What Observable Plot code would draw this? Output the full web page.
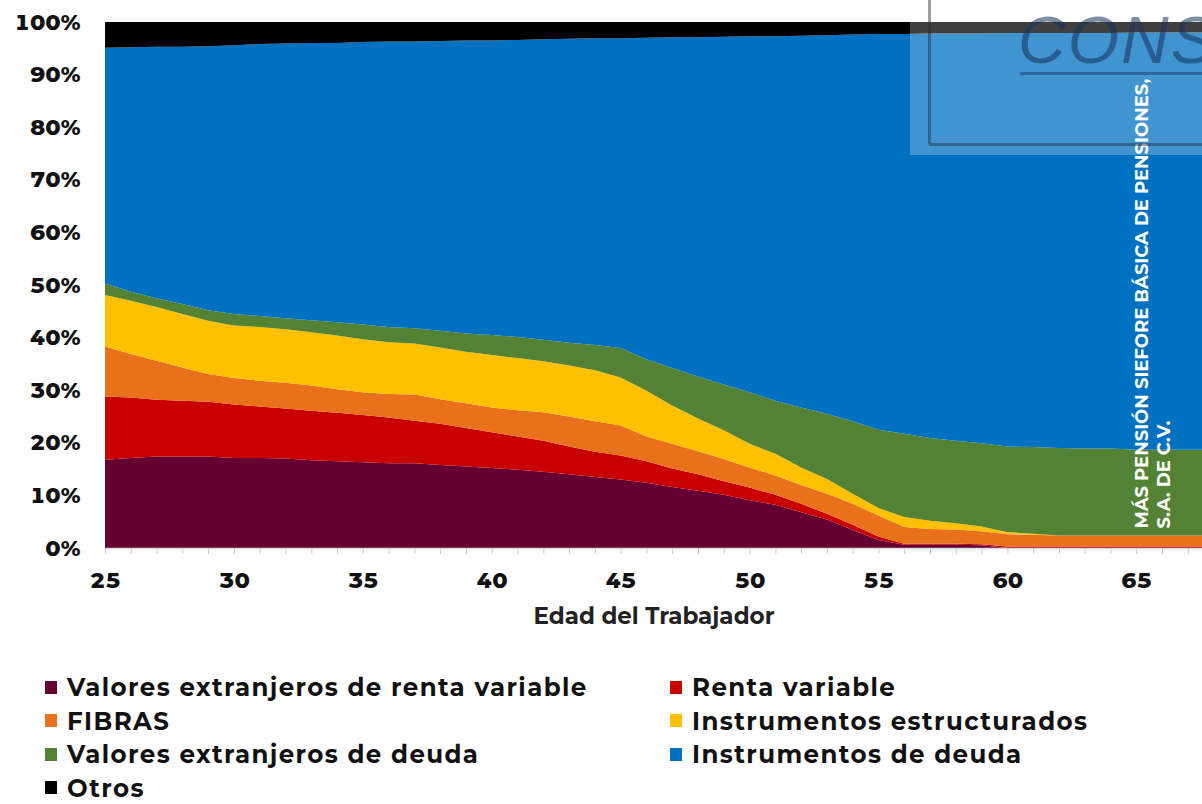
<!DOCTYPE html>
<html>
<head>
<meta charset="utf-8">
<script src="https://cdn.jsdelivr.net/npm/d3@7"></script>
<script src="https://cdn.jsdelivr.net/npm/@observablehq/plot@0.6"></script>
<style>
  body { margin: 0; background: #fff; font-family: Montserrat, Inter, "Open Sans", sans-serif; }
  #wrap { position: relative; width: 1202px; height: 804px; overflow: hidden; }
  #chart { position: absolute; left: 0; top: 0; }
  #legend { position: absolute; left: 45px; top: 674px; display: grid;
            grid-template-columns: 625px 500px; grid-auto-rows: 26px; row-gap: 7.6px;
            font-size: 24.5px; line-height: 26px; font-weight: 700; letter-spacing: 1.4px; color: #111; }
  .item { display: flex; align-items: center; white-space: nowrap; height: 26px; }
  .sw { width: 12px; height: 13px; margin-right: 10px; flex: none; }
  #stamp { position: absolute; left: 910px; top: 0; width: 292px; height: 155px;
           background: rgba(255,255,255,0.25); overflow: hidden; pointer-events: none; }
  #stamp .box { position: absolute; left: 18px; top: -10px; width: 320px; height: 150px;
                border: 3px solid rgba(30,40,60,0.45); border-radius: 4px; }
  #stamp .word { position: absolute; left: 108px; top: 2px; font-size: 66px; font-style: italic;
                 font-family: "Liberation Sans", sans-serif; color: rgba(20,50,90,0.55); letter-spacing: 2px; }
  #stamp .line { position: absolute; left: 110px; top: 72px; width: 200px; height: 3px; background: rgba(20,50,90,0.45); }
</style>
</head>
<body>
<div id="wrap">
  <div id="chart"></div>
  <div id="stamp"><div class="box"></div><div class="word">CONS</div><div class="line"></div></div>
  <div id="legend"></div>
</div>
<script>
const ages = [25,26,27,28,29,30,31,32,33,34,35,36,37,38,39,40,41,42,43,44,45,46,47,48,49,50,51,52,53,54,55,56,57,58,59,60,61,62,63,64,65,66,67,68];
const series = ["Valores extranjeros de renta variable", "Renta variable", "FIBRAS", "Instrumentos estructurados", "Valores extranjeros de deuda", "Instrumentos de deuda", "Otros"];
const colors = ["#650033", "#C80000", "#E9711C", "#FFC000", "#548235", "#0070C0", "#000000"];

const extRentaVariable = [16.8,17.1,17.4,17.4,17.4,17.1,17.1,17.0,16.7,16.5,16.3, 16.1,16.1,15.8,15.5,15.2,14.9,14.5,14.0,13.5,13.0, 12.4,11.6,10.9,10.1,9.1,8.2,6.8,5.4,3.4,1.5, 0.6,0.6,0.6,0.5,0,0,0,0,0,0,0,0,0];
const rentaVariable = [12.0,11.5,10.8,10.6,10.4,10.2,9.8,9.5,9.4,9.2,9.0, 8.7,8.1,7.8,7.3,6.8,6.3,5.9,5.3,4.8,4.6, 4.1,3.5,3.1,2.6,2.4,1.9,1.6,1.1,1.0,0.7, 0.2,0.2,0.2,0.2,0.3,0.3,0.3,0.3,0.3,0.3,0.3,0.3,0.3];
const fibras = [9.5,8.3,7.4,6.3,5.3,5.0,4.9,4.9,4.8,4.5,4.3, 4.5,5.0,4.7,4.7,4.7,5.0,5.4,5.7,5.8,5.7, 4.7,4.7,4.4,4.2,3.8,3.7,3.6,3.8,4.0,4.0, 3.2,2.8,2.7,2.5,2.3,2.2,2.1,2.1,2.1,2.1,2.1,2.1,2.1];
const estructurados = [9.8,10.1,10.2,10.2,10.1,10.0,10.2,10.2,10.1,10.2,10.1, 9.8,9.7,9.8,9.8,10.0,9.9,9.7,9.7,9.7,9.1, 8.7,7.3,6.2,5.5,4.5,4.1,3.3,2.8,1.9,1.4, 1.9,1.6,1.2,0.9,0.4,0.2,0,0,0,0,0,0,0];
const extDeuda = [2.2,1.7,1.7,1.9,2.0,2.2,2.1,2.1,2.3,2.5,2.8, 2.9,2.9,3.2,3.5,3.8,4.0,4.1,4.3,4.8,5.6, 6.0,7.1,8.0,8.7,9.8,10.1,11.4,12.4,13.8,14.9, 15.8,15.7,15.7,15.8,16.3,16.5,16.6,16.5,16.5,16.3,16.3,16.3,16.3];
const deuda = [44.8,46.5,47.8,48.9,50.2,51.1,51.7,52.2,52.7,53.1,53.7, 54.3,54.5,55.1,55.7,56.0,56.5,57.1,57.8,58.3,58.9, 61.1,62.9,64.5,66.1,67.7,69.3,70.7,72.0,73.5,75.2, 76.0,76.9,77.4,77.9,78.6,78.7,78.9,79.0,79.0,79.3,79.3,79.3,79.3];
const otros = [4.9,4.8,4.7,4.7,4.6,4.4,4.2,4.1,4.0,4.0,3.8, 3.7,3.7,3.6,3.5,3.5,3.4,3.3,3.2,3.1,3.1, 3.0,2.9,2.9,2.8,2.7,2.7,2.6,2.5,2.4,2.3, 2.3,2.2,2.2,2.2,2.1,2.1,2.1,2.1,2.1,2.0,2.0,2.0,2.0];

const yTicks = [0,10,20,30,40,50,60,70,80,90,100];
const xTicks = [25,30,35,40,45,50,55,60,65];
const xLabel = "Edad del Trabajador";
const note = "MÁS PENSIÓN SIEFORE BÁSICA DE PENSIONES,\nS.A. DE C.V.";

const valuesBySeries = [extRentaVariable, rentaVariable, fibras, estructurados, extDeuda, deuda, otros];
const rows = [];
ages.forEach((age, i) => {
  series.forEach((s, j) => rows.push({age, serie: s, value: valuesBySeries[j][i]}));
});

const font = "Montserrat, Inter, 'Open Sans', sans-serif";
const chart = Plot.plot({
  width: 1202, height: 640,
  marginLeft: 105, marginRight: 0, marginTop: 22, marginBottom: 92,
  style: {fontFamily: font, color: "#111", background: "transparent"},
  x: {domain: [25, 67.55]},
  y: {domain: [0, 100]},
  color: {domain: series, range: colors},
  marks: [
    Plot.areaY(rows, {x: "age", y: "value", z: "serie", fill: "serie", order: series, clip: true}),
    Plot.ruleY([0], {stroke: "#d9d9d9", strokeWidth: 1.5}),
    Plot.axisY({ticks: yTicks, tickSize: 0, tickPadding: 25, tickFormat: d => d + "%", fontSize: 22, fontWeight: 800, letterSpacing: "2.2px", label: null}),
    Plot.axisX({ticks: ages.filter(a => a <= 67), tickSize: 6, stroke: "#c8c8c8", tickFormat: () => "", label: null}),
    Plot.axisX({ticks: xTicks, tickSize: 0, tickPadding: 24, fontSize: 22, fontWeight: 800, letterSpacing: "1px", label: null}),
    Plot.text([xLabel], {frameAnchor: "bottom", dy: 75, fontSize: 23, fontWeight: 700, letterSpacing: "2.4px", fill: "#222"}),
    Plot.text([note], {frameAnchor: "bottom-right", rotate: -90, textAnchor: "start", lineAnchor: "bottom",
                       dx: -33, dy: -20, fill: "white", fontSize: 18, fontWeight: 700, letterSpacing: "0.5px", lineHeight: 1.22})
  ]
});
document.getElementById("chart").appendChild(chart);

const legend = document.getElementById("legend");
series.forEach((s, i) => {
  const item = document.createElement("div");
  item.className = "item";
  const sw = document.createElement("span");
  sw.className = "sw";
  sw.style.background = colors[i];
  const t = document.createElement("span");
  t.textContent = s;
  item.appendChild(sw);
  item.appendChild(t);
  legend.appendChild(item);
});
</script>
</body>
</html>
